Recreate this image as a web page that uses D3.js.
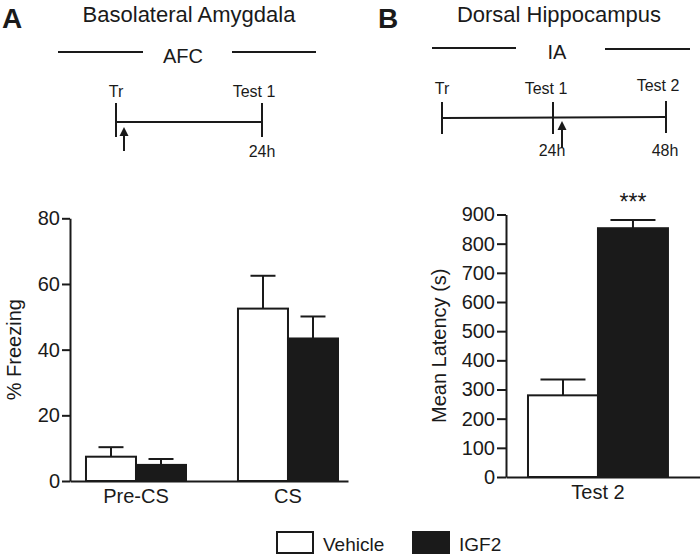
<!DOCTYPE html>
<html><head><meta charset="utf-8">
<script src="https://cdn.jsdelivr.net/npm/d3@7"></script>
<style>body{margin:0;background:#fff}svg{display:block}text{font-family:"Liberation Sans",Arial,sans-serif;fill:#1a1a1a}</style>
</head><body>
<script>
// ---- data ----
const seriesNames = ["Vehicle", "IGF2"];
const seriesFill = ["#ffffff", "#1a1a1a"];
const catsA = ["Pre-CS", "CS"];
const meanA_vehicle = [7.4, 52.5];
const meanA_igf2 = [4.9, 43.4];
const semA_vehicle = [2.9, 10.0];
const semA_igf2 = [1.8, 6.7];
const ticksA = [0, 20, 40, 60, 80];
const catsB = ["Test 2"];
const meanB_vehicle = [280];
const meanB_igf2 = [853];
const semB_vehicle = [54];
const semB_igf2 = [28];
const ticksB = [0, 100, 200, 300, 400, 500, 600, 700, 800, 900];

const W = 700, H = 556, ink = "#1a1a1a";
const svg = d3.select("body").append("svg").attr("width", W).attr("height", H);

function text(x, y, s, size, anchor, weight) {
  return svg.append("text").attr("x", x).attr("y", y).attr("font-size", size)
    .attr("text-anchor", anchor || "middle").attr("font-weight", weight || "normal").text(s);
}
function line(x1, y1, x2, y2, w) {
  svg.append("line").attr("x1", x1).attr("y1", y1).attr("x2", x2).attr("y2", y2)
    .attr("stroke", ink).attr("stroke-width", w || 2);
}
function arrow(x, yBottom, yTip) {
  line(x, yBottom, x, yTip + 6, 2);
  svg.append("path").attr("d", `M${x},${yTip} L${x - 4.5},${yTip + 9} L${x + 4.5},${yTip + 9} Z`).attr("fill", ink);
}

// ---- headers ----
text(2, 28, "A", 28, "start", "bold");
text(189, 22, "Basolateral Amygdala", 22);
text(183, 63, "AFC", 20);
line(58, 52, 143, 52); line(232, 52, 316, 52);
text(116, 97, "Tr", 16); text(254, 97, "Test 1", 16);
line(116, 103, 116, 137); line(262, 103, 262, 137); line(116, 122, 262, 122);
arrow(124, 151, 127);
text(262, 157, "24h", 16);

text(378, 28, "B", 28, "start", "bold");
text(559, 22, "Dorsal Hippocampus", 22);
text(557, 59, "IA", 20);
line(432, 48, 516, 48); line(605, 49, 690, 49);
text(442, 94, "Tr", 16); text(546, 94, "Test 1", 16); text(658, 91, "Test 2", 16);
line(442, 102, 442, 134); line(553, 102, 553, 134); line(666, 101, 666, 133); line(442, 118, 666, 117);
arrow(562, 148, 121);
text(552, 156, "24h", 16); text(665, 156, "48h", 16);

// ---- panel drawing ----
function panel(cfg) {
  const y = d3.scaleLinear().domain(cfg.domain).range([cfg.y0, cfg.y1]);
  const x = d3.scaleBand().domain(cfg.cats).range([cfg.xL, cfg.xR])
    .paddingInner(cfg.pi).paddingOuter(cfg.po).align(cfg.align);
  const xs = d3.scaleBand().domain(seriesNames).range([0, x.bandwidth()]);
  const g = svg.append("g");
  const data = [];
  cfg.cats.forEach((c, i) => seriesNames.forEach((s, j) =>
    data.push({c, s, j, m: cfg.means[j][i], e: cfg.sems[j][i]})));
  // error bars
  data.forEach(d => {
    const cx = x(d.c) + xs(d.s) + xs.bandwidth() / 2;
    g.append("line").attr("x1", cx).attr("x2", cx).attr("y1", y(d.m)).attr("y2", y(d.m + d.e))
      .attr("stroke", ink).attr("stroke-width", 2);
    g.append("line").attr("x1", cx - cfg.cap / 2).attr("x2", cx + cfg.cap / 2)
      .attr("y1", y(d.m + d.e)).attr("y2", y(d.m + d.e)).attr("stroke", ink).attr("stroke-width", 2);
  });
  g.selectAll("rect.bar").data(data).join("rect").attr("class", "bar")
    .attr("x", d => x(d.c) + xs(d.s)).attr("width", xs.bandwidth())
    .attr("y", d => y(d.m)).attr("height", d => y(0) - y(d.m))
    .attr("fill", d => seriesFill[d.j]).attr("stroke", ink).attr("stroke-width", 2);
  // axes
  const ay = svg.append("g").attr("transform", `translate(${cfg.xL},0)`)
    .call(d3.axisLeft(y).tickValues(cfg.ticks).tickSize(cfg.tick).tickPadding(2).tickSizeOuter(0));
  ay.select(".domain").attr("stroke", ink).attr("stroke-width", 2);
  ay.selectAll(".tick line").attr("stroke", ink).attr("stroke-width", 2);
  ay.selectAll(".tick text").attr("font-size", 20).attr("font-family", "Liberation Sans, Arial, sans-serif").attr("fill", ink);
  const ax = svg.append("g").attr("transform", `translate(0,${cfg.y0})`)
    .call(d3.axisBottom(x).tickSize(0).tickPadding(8).tickSizeOuter(0));
  ax.select(".domain").attr("stroke", ink).attr("stroke-width", 2);
  ax.selectAll(".tick text").attr("font-size", 20).attr("font-family", "Liberation Sans, Arial, sans-serif").attr("fill", ink);
  text(cfg.labX, (cfg.y0 + cfg.y1) / 2, cfg.label, cfg.labSize).attr("transform", `rotate(-90,${cfg.labX},${(cfg.y0 + cfg.y1) / 2})`);
  return {x, xs, y};
}

panel({cats: catsA, means: [meanA_vehicle, meanA_igf2], sems: [semA_vehicle, semA_igf2],
  domain: [0, 80], ticks: ticksA, y0: 481, y1: 218.3, xL: 70, xR: 348,
  pi: 0.342, po: 0.0855, align: 0.615, cap: 25, tick: 8,
  label: "% Freezing", labX: 21, labSize: 20});

const pB = panel({cats: catsB, means: [meanB_vehicle, meanB_igf2], sems: [semB_vehicle, semB_igf2],
  domain: [0, 900], ticks: ticksB, y0: 477, y1: 214.5, xL: 506, xR: 700,
  pi: 0, po: 0.193, align: 0.407, cap: 45, tick: 9,
  label: "Mean Latency (s)", labX: 446, labSize: 20});

// significance
text(pB.x("Test 2") + pB.xs("IGF2") + pB.xs.bandwidth() / 2, pB.y(meanB_igf2[0] + semB_igf2[0]) - 10, "***", 23);

// legend
const lg = svg.append("g");
seriesNames.forEach((s, i) => {
  const lx = [277, 413][i];
  lg.append("rect").attr("x", lx).attr("y", 532).attr("width", 36).attr("height", 21)
    .attr("fill", seriesFill[i]).attr("stroke", ink).attr("stroke-width", 2);
  lg.append("text").attr("x", lx + 46).attr("y", 551).attr("font-size", 19).text(s);
});
</script>
</body></html>
